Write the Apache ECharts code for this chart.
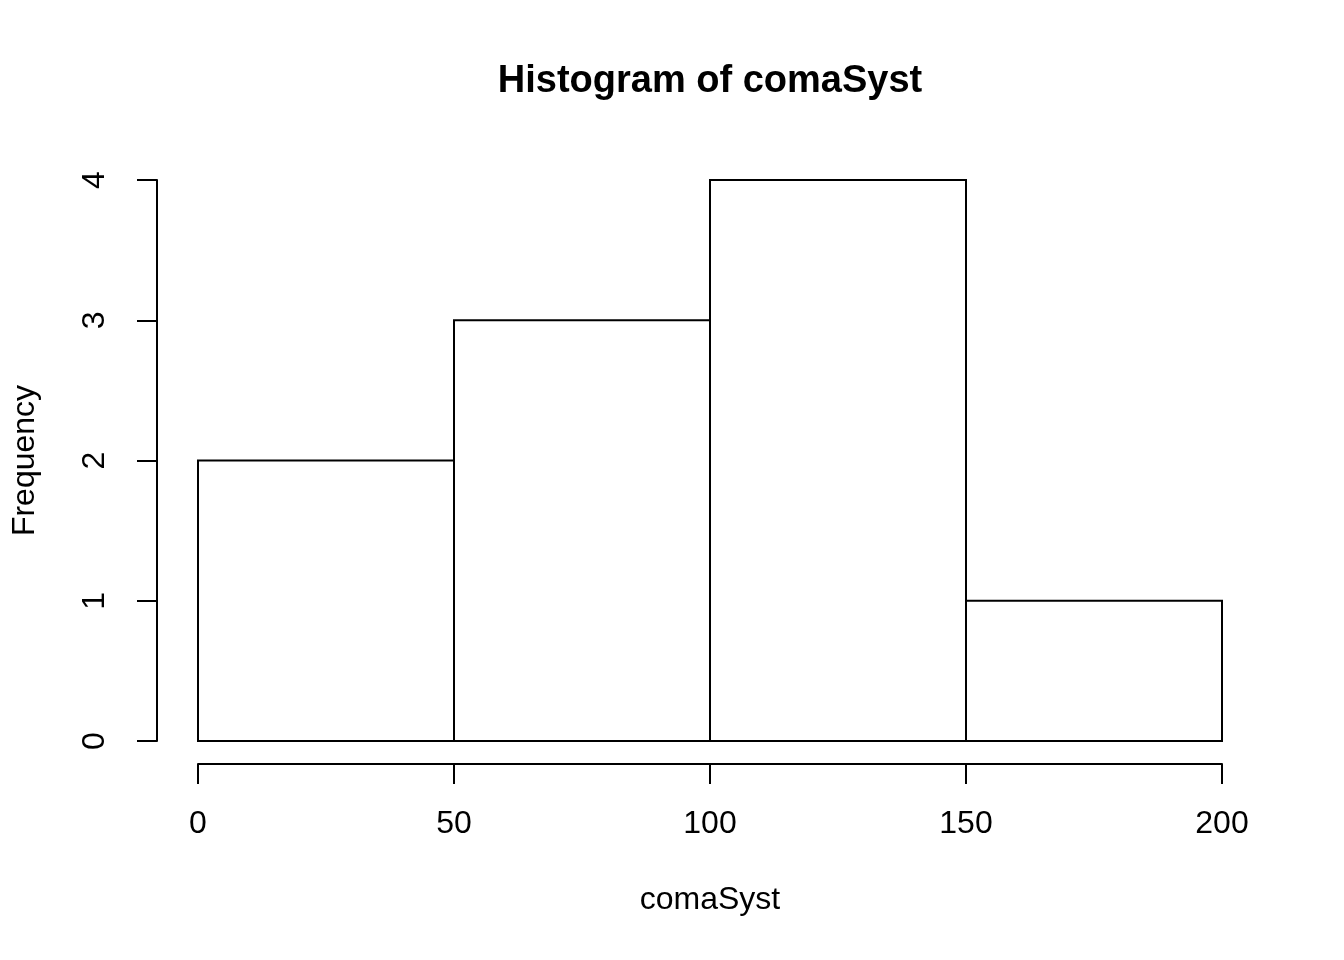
<!DOCTYPE html>
<html>
<head>
<meta charset="utf-8">
<script src="https://cdn.jsdelivr.net/npm/echarts@6/dist/echarts.min.js"></script>
<style>
html,body{margin:0;padding:0;background:#fff;}
#chart{width:1344px;height:960px;}
</style>
</head>
<body>
<div id="chart"></div>
<script>
const titleText = "Histogram of comaSyst";
const xLabel = "comaSyst";
const yLabel = "Frequency";
const binStarts = [0, 50, 100, 150];
const binEnds = [50, 100, 150, 200];
const counts = [2, 3, 4, 1];
const xRange = [0, 200];
const xStep = 50;
const yRange = [0, 4];
const yStep = 1;

const FONT = "'Liberation Sans', Arial, Helvetica, sans-serif";
const data = binStarts.map((s, i) => [s, binEnds[i], counts[i]]);

const chart = echarts.init(document.getElementById('chart'), null, {renderer: 'canvas'});
chart.setOption({
  backgroundColor: '#ffffff',
  animation: false,
  title: {
    text: titleText,
    left: 705,
    top: 58,
    textAlign: 'center',
    textStyle: {fontFamily: FONT, fontSize: 38, fontWeight: 'bold', color: '#000'}
  },
  grid: {left: 198, right: 122, top: 180, bottom: 219, containLabel: false},
  xAxis: {
    type: 'value',
    min: xRange[0], max: xRange[1], interval: xStep,
    offset: 23,
    name: xLabel,
    nameLocation: 'middle',
    nameGap: 120,
    nameTextStyle: {fontFamily: FONT, fontSize: 32, color: '#000'},
    axisLine: {show: true, onZero: false, lineStyle: {color: '#000', width: 2}},
    axisTick: {show: true, inside: false, length: 20, lineStyle: {color: '#000', width: 2}},
    axisLabel: {show: true, margin: 44, fontFamily: FONT, fontSize: 32, color: '#000'},
    splitLine: {show: false}
  },
  yAxis: {
    type: 'value',
    min: yRange[0], max: yRange[1], interval: yStep,
    offset: 41,
    name: yLabel,
    nameLocation: 'middle',
    nameGap: 116,
    nameRotate: 90,
    nameTextStyle: {fontFamily: FONT, fontSize: 32, color: '#000'},
    axisLine: {show: true, onZero: false, lineStyle: {color: '#000', width: 2}},
    axisTick: {show: true, inside: false, length: 20, lineStyle: {color: '#000', width: 2}},
    axisLabel: {show: true, rotate: 90, margin: 46, fontFamily: FONT, fontSize: 32, color: '#000'},
    splitLine: {show: false}
  },
  series: [{
    type: 'custom',
    clip: false,
    data: data,
    encode: {x: [0, 1], y: 2},
    renderItem: function (params, api) {
      const p0 = api.coord([api.value(0), api.value(2)]);
      const p1 = api.coord([api.value(1), 0]);
      return {
        type: 'rect',
        shape: {x: p0[0], y: p0[1], width: p1[0] - p0[0], height: p1[1] - p0[1]},
        style: {fill: '#ffffff', stroke: '#000000', lineWidth: 2}
      };
    }
  }]
});
</script>
</body>
</html>
